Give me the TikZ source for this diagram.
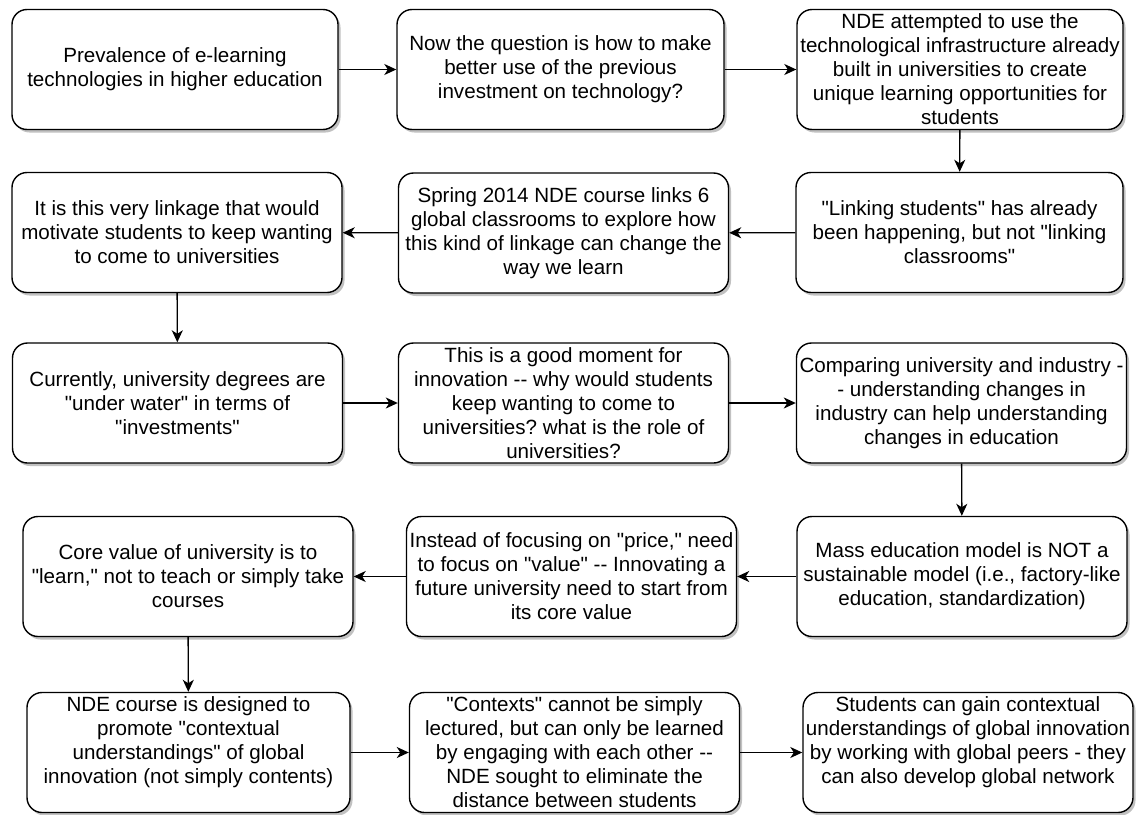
\documentclass[tikz,border=0pt]{standalone}
\usepackage{fontspec}
\setmainfont{Liberation Sans}[Ligatures=TeXOff]
\usetikzlibrary{arrows.meta,shadows}
\frenchspacing
\begin{document}
\begin{tikzpicture}[x=1pt, y=-1pt,
    stepbox/.style={draw, line width=1.4pt, rounded corners=15pt, fill=white,
      minimum width=330pt, minimum height=120pt, inner sep=0pt, align=center,
      font=\fontsize{20.6}{24}\selectfont,
      drop shadow={shadow xshift=2.5pt, shadow yshift=-3pt, fill=black!70, opacity=0.35}},
    link/.style={line width=1.4pt, -{Stealth[length=12pt, width=11pt, inset=3.5pt]}}]
    \useasboundingbox (0,0) rectangle (1143,814);
    % Row 1
    \node[stepbox, minimum width=326pt] (prevalence) at (175,69.5) {Prevalence of e-learning\\technologies in higher education};
    \node[stepbox, minimum width=327pt] (question) at (560.5,69.5) {Now the question is how to make\\better use of the previous\\investment on technology?};
    \node[stepbox, minimum width=326pt] (infra) at (960,69.5) {NDE attempted to use the\\technological infrastructure already\\built in universities to create\\unique learning opportunities for\\students};
    % Row 2
    \node[stepbox] (linkage) at (177,232.5) {It is this very linkage that would\\motivate students to keep wanting\\to come to universities};
    \node[stepbox] (spring) at (563.5,233) {Spring 2014 NDE course links 6\\global classrooms to explore how\\this kind of linkage can change the\\way we learn};
    \node[stepbox, minimum width=327pt] (linking) at (959.5,232.5) {"Linking students" has already\\been happening, but not "linking\\classrooms"};
    % Row 3
    \node[stepbox] (degrees) at (177.5,403) {Currently, university degrees are\\"under water" in terms of\\"investments"};
    \node[stepbox] (moment) at (563.5,403) {This is a good moment for\\innovation -- why would students\\keep wanting to come to\\universities? what is the role of\\universities?};
    \node[stepbox] (industry) at (961.5,403) {Comparing university and industry -\\- understanding changes in\\industry can help understanding\\changes in education};
    % Row 4
    \node[stepbox] (core) at (188,576.5) {Core value of university is to\\"learn," not to teach or simply take\\courses};
    \node[stepbox] (price) at (571.5,576.5) {Instead of focusing on "price," need\\to focus on "value" -- Innovating a\\future university need to start from\\its core value};
    \node[stepbox] (mass) at (962,576.5) {Mass education model is NOT a\\sustainable model (i.e., factory-like\\education, standardization)};
    % Row 5
    \node[stepbox, minimum width=323pt] (designed) at (188.5,752.5) {NDE course is designed to\\promote "contextual\\understandings" of global\\innovation (not simply contents)\\\mbox{}};
    \node[stepbox] (contexts) at (574.5,752.5) {"Contexts" cannot be simply\\lectured, but can only be learned\\by engaging with each other --\\NDE sought to eliminate the\\distance between students};
    \node[stepbox] (peers) at (968,752.5) {Students can gain contextual\\understandings of global innovation\\by working with global peers - they\\can also develop global network\\\mbox{}};
    % Connectors
    \draw[link] (prevalence) -- (question);
    \draw[link] (question) -- (infra);
    \draw[link] (infra) -- (linking);
    \draw[link] (linking) -- (spring);
    \draw[link] (spring) -- (linkage);
    \draw[link] (linkage) -- (degrees);
    \draw[link] (degrees) -- (moment);
    \draw[link] (moment) -- (industry);
    \draw[link] (industry) -- (mass);
    \draw[link] (mass) -- (price);
    \draw[link] (price) -- (core);
    \draw[link] (core) -- (designed);
    \draw[link] (designed) -- (contexts);
    \draw[link] (contexts) -- (peers);
\end{tikzpicture}
\end{document}
